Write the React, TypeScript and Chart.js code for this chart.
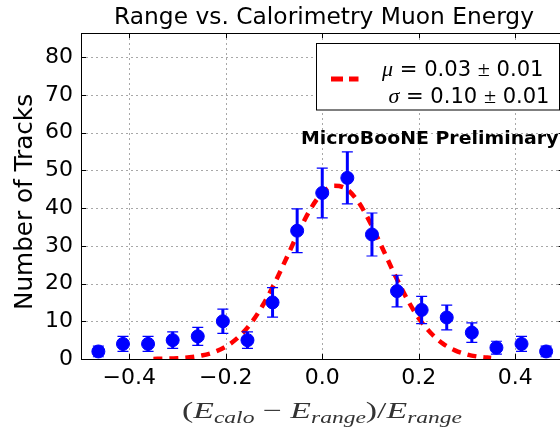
import React, { useEffect, useRef } from 'react';
import { Chart, registerables } from 'chart.js';
Chart.register(...registerables);

// ---- data ----
const binCenters = [-0.464, -0.413, -0.361, -0.31, -0.258, -0.206, -0.155, -0.103, -0.052, 0.0, 0.052, 0.103, 0.155, 0.206, 0.258, 0.31, 0.361, 0.413, 0.464];
const counts = [2, 4, 4, 5, 6, 10, 5, 15, 34, 44, 48, 33, 18, 13, 11, 7, 3, 4, 2];
const countErrors = [1.4, 2.0, 2.0, 2.2, 2.4, 3.2, 2.2, 3.9, 5.8, 6.6, 6.9, 5.7, 4.2, 3.6, 3.3, 2.6, 1.7, 2.0, 1.4];
const fitX = [-0.35, -0.325, -0.3, -0.275, -0.25, -0.225, -0.2, -0.175, -0.15, -0.125, -0.1, -0.075, -0.05, -0.025, 0.0, 0.025, 0.05, 0.075, 0.1, 0.125, 0.15, 0.175, 0.2, 0.225, 0.25, 0.275, 0.3, 0.325, 0.35];
const fitY = [0.03, 0.08, 0.2, 0.44, 0.91, 1.78, 3.27, 5.63, 9.11, 13.84, 19.76, 26.5, 33.4, 39.6, 44.0, 45.9, 45.1, 41.6, 36.0, 29.3, 22.4, 16.1, 10.8, 6.9, 4.09, 2.29, 1.2, 0.59, 0.28];
const xTicks = [-0.4, -0.2, 0.0, 0.2, 0.4];
const yTicks = [0, 10, 20, 30, 40, 50, 60, 70, 80];
const titleText = 'Range vs. Calorimetry Muon Energy';
const yLabelText = 'Number of Tracks';
const watermarkText = 'MicroBooNE Preliminary';
const legendLine1 = ['\u03bc', ' = 0.03 ', '\u00b1', ' 0.01'];
const legendLine2 = ['\u03c3', ' = 0.10 ', '\u00b1', ' 0.01'];

const SANS = '"DejaVu Sans", sans-serif';
const SERIF = '"Liberation Serif", "DejaVu Serif", serif';

type Part = { t: string; f: string; dy?: number };

function drawParts(ctx: CanvasRenderingContext2D, parts: Part[], x: number, y: number, targetW?: number) {
  let total = 0;
  const ws = parts.map((p) => {
    ctx.font = p.f;
    const w = ctx.measureText(p.t).width;
    total += w;
    return w;
  });
  const s = targetW ? targetW / total : 1;
  ctx.save();
  ctx.translate(x, y);
  ctx.scale(s, 1);
  ctx.textBaseline = 'alphabetic';
  ctx.textAlign = 'left';
  let cx = 0;
  parts.forEach((p, i) => {
    ctx.font = p.f;
    ctx.fillText(p.t, cx, p.dy || 0);
    cx += ws[i];
  });
  ctx.restore();
}

const decorPlugin = {
  id: 'decor',
  beforeDatasetsDraw(chart: any) {
    const ctx: CanvasRenderingContext2D = chart.ctx;
    const { left, right, top, bottom } = chart.chartArea;
    const xs = chart.scales.x;
    const ys = chart.scales.y;
    ctx.save();
    ctx.strokeStyle = '#a8a8a8';
    ctx.lineWidth = 1;
    ctx.setLineDash([2, 3]);
    ctx.beginPath();
    xTicks.forEach((v) => {
      const px = Math.round(xs.getPixelForValue(v)) + 0.5;
      ctx.moveTo(px, top);
      ctx.lineTo(px, bottom);
    });
    yTicks.forEach((v) => {
      if (v === 0) return;
      const py = Math.round(ys.getPixelForValue(v)) + 0.5;
      ctx.moveTo(left, py);
      ctx.lineTo(right, py);
    });
    ctx.stroke();
    ctx.restore();
  },
  beforeDatasetDraw(chart: any, args: any) {
    if (args.index !== 0) return;
    const ctx: CanvasRenderingContext2D = chart.ctx;
    const xs = chart.scales.x;
    const ys = chart.scales.y;
    ctx.save();
    ctx.strokeStyle = '#0000ff';
    binCenters.forEach((bx, i) => {
      const px = xs.getPixelForValue(bx);
      const yTop = ys.getPixelForValue(counts[i] + countErrors[i]);
      const yBot = ys.getPixelForValue(counts[i] - countErrors[i]);
      ctx.lineWidth = 3;
      ctx.beginPath();
      ctx.moveTo(px, yTop);
      ctx.lineTo(px, yBot);
      ctx.stroke();
      ctx.lineWidth = 1.2;
      ctx.beginPath();
      ctx.moveTo(px - 5.5, yTop);
      ctx.lineTo(px + 5.5, yTop);
      ctx.moveTo(px - 5.5, yBot);
      ctx.lineTo(px + 5.5, yBot);
      ctx.stroke();
    });
    ctx.restore();
  },
  afterDraw(chart: any) {
    const ctx: CanvasRenderingContext2D = chart.ctx;
    const { left, right, top, bottom } = chart.chartArea;
    const xs = chart.scales.x;
    const ys = chart.scales.y;
    ctx.save();
    // spines
    ctx.strokeStyle = '#000';
    ctx.lineWidth = 1;
    ctx.beginPath();
    ctx.moveTo(left, top + 0.5);
    ctx.lineTo(right, top + 0.5);
    ctx.moveTo(right - 0.5, top);
    ctx.lineTo(right - 0.5, bottom);
    ctx.stroke();
    // inward ticks
    ctx.beginPath();
    xTicks.forEach((v) => {
      const px = Math.round(xs.getPixelForValue(v)) + 0.5;
      ctx.moveTo(px, bottom);
      ctx.lineTo(px, bottom - 5);
      ctx.moveTo(px, top);
      ctx.lineTo(px, top + 5);
    });
    yTicks.forEach((v) => {
      const py = Math.round(ys.getPixelForValue(v)) + 0.5;
      ctx.moveTo(left, py);
      ctx.lineTo(left + 5, py);
      ctx.moveTo(right, py);
      ctx.lineTo(right - 5, py);
    });
    ctx.stroke();

    ctx.fillStyle = '#000';
    // title
    drawParts(ctx, [{ t: titleText, f: `23px ${SANS}` }], 114, 24, 420);

    // y label
    ctx.save();
    ctx.translate(31.5, 310);
    ctx.rotate(-Math.PI / 2);
    drawParts(ctx, [{ t: yLabelText, f: `24px ${SANS}` }], 0, 0, 216);
    ctx.restore();

    // x label (E_calo - E_range)/E_range
    ctx.fillStyle = '#333';
    const big = `23px ${SERIF}`;
    const bigI = `italic 23px ${SERIF}`;
    const sub = `italic 16px ${SERIF}`;
    drawParts(
      ctx,
      [
        { t: '(', f: big },
        { t: 'E', f: bigI },
        { t: 'calo', f: sub, dy: 5 },
        { t: ' \u2212 ', f: big },
        { t: 'E', f: bigI },
        { t: 'range', f: sub, dy: 5 },
        { t: ')/', f: big },
        { t: 'E', f: bigI },
        { t: 'range', f: sub, dy: 5 },
      ],
      182,
      418,
      280
    );

    // legend box
    ctx.fillStyle = '#fff';
    ctx.fillRect(317, 43.5, 242, 66.5);
    ctx.strokeStyle = '#000';
    ctx.lineWidth = 1;
    ctx.strokeRect(316.5, 43.5, 243, 66.5);
    ctx.strokeStyle = '#ff0000';
    ctx.lineWidth = 5;
    ctx.setLineDash([12, 6]);
    ctx.beginPath();
    ctx.moveTo(331, 79);
    ctx.lineTo(358.5, 79);
    ctx.stroke();
    ctx.setLineDash([]);
    ctx.fillStyle = '#000';
    const lf = `21px ${SANS}`;
    const lfI = `italic 22px ${SERIF}`;
    const lfS = `22px ${SERIF}`;
    drawParts(
      ctx,
      [
        { t: legendLine1[0], f: lfI },
        { t: legendLine1[1], f: lf },
        { t: legendLine1[2], f: lfS },
        { t: legendLine1[3], f: lf },
      ],
      382,
      75.5,
      161.5
    );
    drawParts(
      ctx,
      [
        { t: legendLine2[0], f: lfI },
        { t: legendLine2[1], f: lf },
        { t: legendLine2[2], f: lfS },
        { t: legendLine2[3], f: lf },
      ],
      388.5,
      102.5,
      161
    );

    // watermark
    drawParts(ctx, [{ t: watermarkText, f: `bold 18px ${SANS}` }], 301, 143.5, 257.5);
    ctx.restore();
  },
};

export default function App() {
  const ref = useRef<HTMLCanvasElement | null>(null);
  useEffect(() => {
    if (!ref.current) return;
    const chart = new Chart(ref.current, {
      type: 'scatter',
      data: {
        datasets: [
          {
            type: 'scatter',
            label: 'data',
            data: binCenters.map((x, i) => ({ x, y: counts[i] })),
            backgroundColor: '#0000ff',
            borderColor: '#0000ff',
            borderWidth: 1,
            pointRadius: 6.5,
            order: 0,
            clip: false as any,
          },
          {
            type: 'line',
            label: 'fit',
            data: fitX.map((x, i) => ({ x, y: fitY[i] })),
            borderColor: '#ff0000',
            borderWidth: 4.5,
            borderDash: [9, 7],
            borderCapStyle: 'butt',
            pointRadius: 0,
            fill: false,
            cubicInterpolationMode: 'monotone',
            order: 1,
          } as any,
        ],
      },
      options: {
        responsive: false,
        animation: false,
        events: [],
        layout: { padding: { left: 0, right: 0, top: 33, bottom: 0 } },
        plugins: {
          legend: { display: false },
          title: { display: false },
          tooltip: { enabled: false },
        },
        scales: {
          x: {
            type: 'linear',
            min: -0.5,
            max: 0.5,
            afterBuildTicks: (axis: any) => {
              axis.ticks = xTicks.map((v) => ({ value: v }));
            },
            afterFit: (scale: any) => {
              scale.height = 73;
            },
            grid: { display: false, drawTicks: false },
            border: { display: true, color: '#000', width: 1 },
            ticks: {
              padding: 6,
              color: '#000',
              font: { family: 'DejaVu Sans', size: 22 },
              maxRotation: 0,
              autoSkip: false,
              callback: (v: any) => {
                const n = Number(v);
                const s = Math.abs(n).toFixed(1);
                return n < -1e-9 ? '\u2212' + s : s;
              },
            },
          },
          y: {
            type: 'linear',
            min: 0,
            max: 86.4,
            afterBuildTicks: (axis: any) => {
              axis.ticks = yTicks.map((v) => ({ value: v }));
            },
            afterFit: (scale: any) => {
              scale.width = 81;
            },
            grid: { display: false, drawTicks: false },
            border: { display: true, color: '#000', width: 1 },
            ticks: {
              padding: 8,
              color: '#000',
              font: { family: 'DejaVu Sans', size: 22 },
              autoSkip: false,
              callback: (v: any) => String(v),
            },
          },
        },
      },
      plugins: [decorPlugin],
    });
    return () => chart.destroy();
  }, []);
  return (
    <div style={{ position: 'fixed', left: 0, top: 0, width: 560, height: 432, overflow: 'hidden', background: '#fff' }}>
      <canvas ref={ref} width={571} height={432} style={{ display: 'block' }} />
    </div>
  );
}
